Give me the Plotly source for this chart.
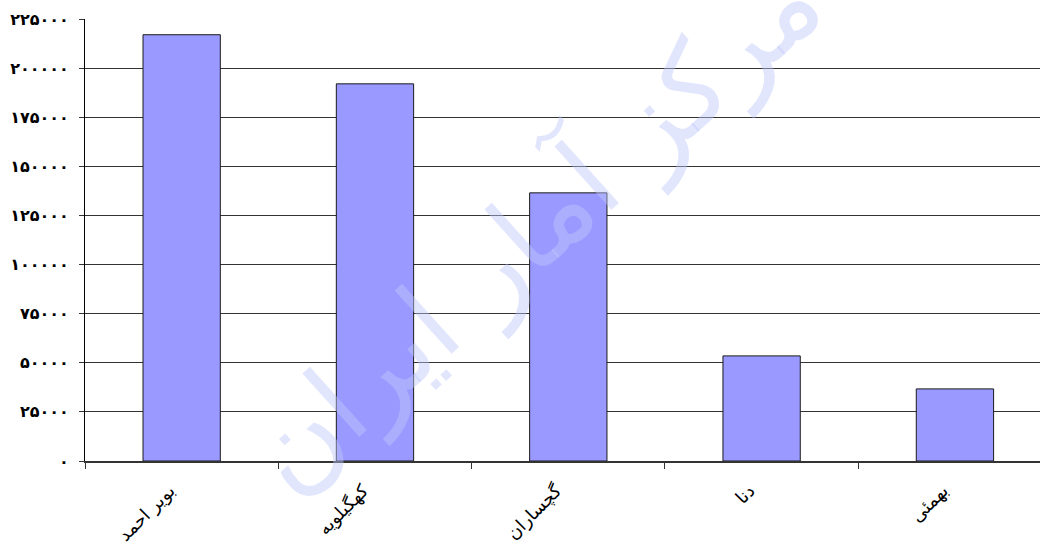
import plotly.graph_objects as go

categories = ["بویر احمد", "کهگیلویه", "گچساران", "دنا", "بهمئی"]
values = [217000, 192000, 136500, 53500, 36700]
tick_vals = [0, 25000, 50000, 75000, 100000, 125000, 150000, 175000, 200000, 225000]
tick_text = ["۰", "۲۵۰۰۰", "۵۰۰۰۰", "۷۵۰۰۰", "۱۰۰۰۰۰", "۱۲۵۰۰۰", "۱۵۰۰۰۰", "۱۷۵۰۰۰", "۲۰۰۰۰۰", "۲۲۵۰۰۰"]
watermark = "مرکز آمار ایران"

fig = go.Figure()
fig.add_trace(go.Bar(
    x=categories, y=values, width=0.4,
    marker=dict(color="#9999FF", line=dict(color="#1a1a1a", width=1)),
))

fig.add_annotation(
    text=watermark, xref="paper", yref="paper", x=0.47, y=0.53,
    showarrow=False, textangle=-42,
    font=dict(family="DejaVu Sans", size=112, color="rgba(190,200,250,0.45)"),
)

fig.update_layout(
    width=1040, height=549,
    margin=dict(l=85, r=0, t=19, b=88),
    paper_bgcolor="white", plot_bgcolor="white",
    showlegend=False,
)
fig.update_xaxes(
    type="category", range=[-0.5, 4.44], tickson="boundaries",
    ticks="outside", ticklen=6, tickcolor="#333", tickwidth=1,
    showline=True, linecolor="#333", linewidth=2,
    showgrid=False, tickangle=-45, automargin=False,
    ticklabelstandoff=10, ticklabelshift=-12,
    tickfont=dict(family="DejaVu Sans", size=18, color="black"),
)
fig.update_yaxes(
    range=[0, 225000], tickvals=tick_vals, ticktext=tick_text,
    ticks="outside", ticklen=5, tickcolor="#333",
    showline=True, linecolor="black", linewidth=1,
    showgrid=True, gridcolor="#333", gridwidth=1, zeroline=False,
    automargin=False, ticklabelstandoff=7,
    tickfont=dict(family="DejaVu Sans", size=16, color="black", weight="bold"),
)

fig.write_html(
    "out.html",
    config={"displayModeBar": False},
    post_script="document.body.style.margin='0';document.body.style.overflow='hidden';",
)
